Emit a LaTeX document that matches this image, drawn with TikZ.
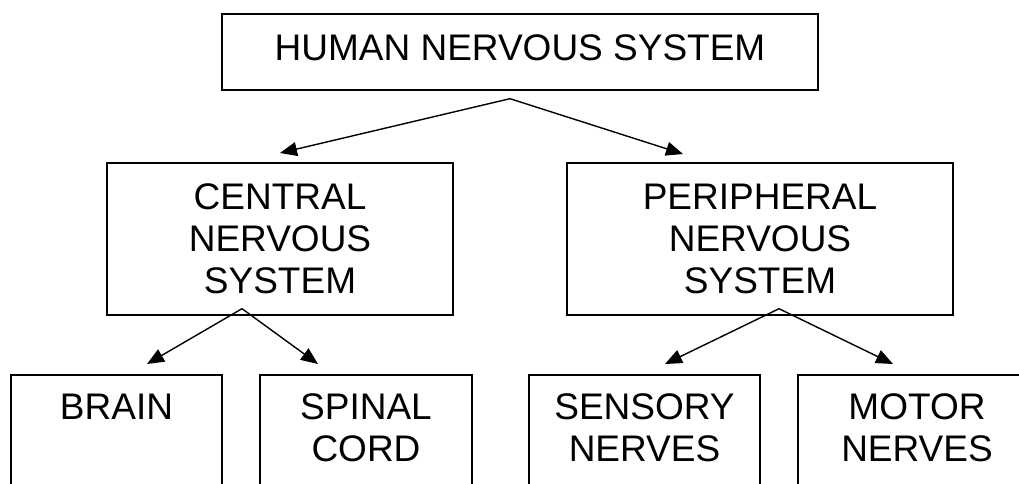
\documentclass[tikz,border=0pt]{standalone}
\usepackage{fontspec}
\setmainfont{Liberation Sans}
\usetikzlibrary{arrows.meta,calc}

\begin{document}
\begin{tikzpicture}[x=1pt,y=-1pt,
  box/.style={draw=black, line width=1.7pt, align=center, inner sep=0pt,
    font=\fontsize{37}{42}\selectfont},
  branchbox/.style={box, anchor=north, minimum height=152pt},
  leafbox/.style={box, anchor=north, inner ysep=19pt, text depth=110pt},
  link/.style={line width=1.4pt, -{Triangle[length=17pt,width=14pt]}}]
\useasboundingbox (0,0) rectangle (1019,484);
\clip (0,0) rectangle (1019,484);
\fill[white] (0,0) rectangle (1019,484);

% root
\node[box, anchor=north, minimum width=596pt, minimum height=76pt,
      text depth=9pt] (hns) at (520,13) {HUMAN NERVOUS SYSTEM};

% second level
\node[branchbox, minimum width=346pt] (cns) at (280,162)
  {CENTRAL\\NERVOUS\\SYSTEM};
\node[branchbox, minimum width=386pt] (pns) at (760,162)
  {PERIPHERAL\\NERVOUS\\SYSTEM};

% leaves (they run past the lower edge)
\node[leafbox, minimum width=211pt] (brain)   at (116.5,374) {BRAIN};
\node[leafbox, minimum width=212pt] (spinal)  at (366,374)   {SPINAL\\CORD};
\node[leafbox, minimum width=231pt] (sensory) at (644.5,374) {SENSORY\\NERVES};
\node[leafbox, minimum width=238pt] (motor)   at (917,374)   {MOTOR\\NERVES};

% branching points and arrow tips
\coordinate (hnsfork) at ($(hns.south)+(-10,8)$);
\coordinate (cnstip)  at ($(cns.north)+(0,-9)$);
\coordinate (pnstip)  at ($(pns.north)+(-77,-8)$);

\coordinate (cnsfork) at ($(cns.south)+(-38,-7)$);
\coordinate (braintip)  at ($(brain.north)+(30.5,-10)$);
\coordinate (spinaltip) at ($(spinal.north)+(-48,-10)$);

\coordinate (pnsfork) at ($(pns.south)+(19,-7)$);
\coordinate (sensorytip) at ($(sensory.north)+(20.5,-10)$);
\coordinate (motortip)   at ($(motor.north)+(-24,-10)$);

% connectors
\draw[link] (hnsfork) -- (cnstip);
\draw[link] (hnsfork) -- (pnstip);
\draw[link] (cnsfork) -- (braintip);
\draw[link] (cnsfork) -- (spinaltip);
\draw[link] (pnsfork) -- (sensorytip);
\draw[link] (pnsfork) -- (motortip);
\end{tikzpicture}
\end{document}
